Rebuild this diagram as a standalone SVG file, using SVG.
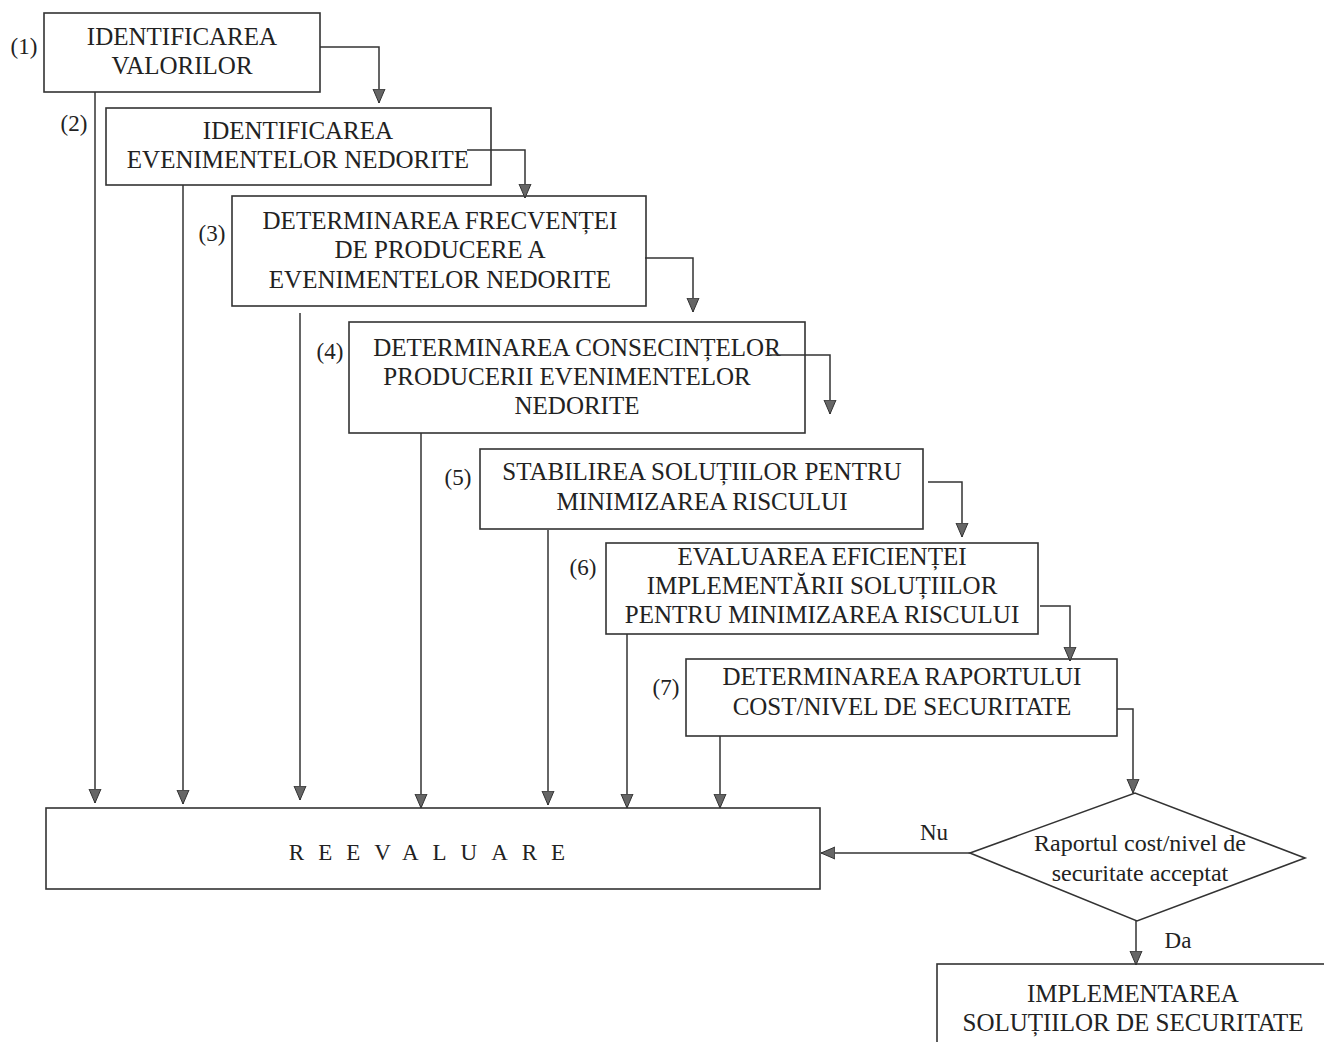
<svg xmlns="http://www.w3.org/2000/svg" width="1324" height="1042" viewBox="0 0 1324 1042">
<style>
.box{fill:#fff;stroke:#333;stroke-width:1.6}
.t{font-family:"Liberation Serif","Times New Roman",serif;font-size:25px;fill:#222;text-anchor:middle}
.n{font-family:"Liberation Serif","Times New Roman",serif;font-size:23px;fill:#222;text-anchor:middle}
.d{font-family:"Liberation Serif","Times New Roman",serif;font-size:24px;fill:#222;text-anchor:middle}
.c{fill:none;stroke:#333;stroke-width:1.5}
</style>
<defs>
<marker id="ah" markerUnits="userSpaceOnUse" markerWidth="15" markerHeight="14" viewBox="0 0 15 14" refX="14" refY="7" orient="auto">
<path d="M0,1 L14,7 L0,13 z" fill="#666" stroke="#333" stroke-width="1"/>
</marker>
</defs>
<rect width="1324" height="1042" fill="#fff"/>
<g id="n1">
<rect class="box" x="44" y="13" width="276" height="79"/>
<text class="t" x="182" y="45">IDENTIFICAREA</text>
<text class="t" x="182" y="74">VALORILOR</text>
<text class="n" x="24" y="54">(1)</text>
</g>
<g id="n2">
<rect class="box" x="106" y="108" width="385" height="77"/>
<text class="t" x="298" y="139">IDENTIFICAREA</text>
<text class="t" x="298" y="168">EVENIMENTELOR NEDORITE</text>
<text class="n" x="74" y="131">(2)</text>
</g>
<g id="n3">
<rect class="box" x="232" y="196" width="414" height="110"/>
<text class="t" x="440" y="229">DETERMINAREA FRECVENȚEI</text>
<text class="t" x="440" y="258">DE PRODUCERE A</text>
<text class="t" x="440" y="288">EVENIMENTELOR NEDORITE</text>
<text class="n" x="212" y="241">(3)</text>
</g>
<g id="n4">
<rect class="box" x="349" y="322" width="456" height="111"/>
<text class="t" x="577" y="356">DETERMINAREA CONSECINȚELOR</text>
<text class="t" x="567" y="385">PRODUCERII EVENIMENTELOR</text>
<text class="t" x="577" y="414">NEDORITE</text>
<text class="n" x="330" y="359">(4)</text>
</g>
<g id="n5">
<rect class="box" x="480" y="449" width="443" height="80"/>
<text class="t" x="702" y="480">STABILIREA SOLUȚIILOR PENTRU</text>
<text class="t" x="702" y="510">MINIMIZAREA RISCULUI</text>
<text class="n" x="458" y="485">(5)</text>
</g>
<g id="n6">
<rect class="box" x="606" y="543" width="432" height="91"/>
<text class="t" x="822" y="565">EVALUAREA EFICIENȚEI</text>
<text class="t" x="822" y="594">IMPLEMENTĂRII SOLUȚIILOR</text>
<text class="t" x="822" y="623">PENTRU MINIMIZAREA RISCULUI</text>
<text class="n" x="583" y="575">(6)</text>
</g>
<g id="n7">
<rect class="box" x="686" y="659" width="431" height="77"/>
<text class="t" x="902" y="685">DETERMINAREA RAPORTULUI</text>
<text class="t" x="902" y="715">COST/NIVEL DE SECURITATE</text>
<text class="n" x="666" y="695">(7)</text>
</g>
<g id="reevaluare">
<rect class="box" x="46" y="808" width="774" height="81"/>
<text class="t" x="434" y="860" style="font-size:23px;letter-spacing:14px">REEVALUARE</text>
</g>
<g id="decision">
<polygon class="box" points="970,853 1135,793 1305,858 1137,921"/>
<text class="d" x="1140" y="851">Raportul cost/nivel de</text>
<text class="d" x="1140" y="881">securitate acceptat</text>
</g>
<g id="implementare">
<rect class="box" x="937" y="964" width="400" height="90"/>
<text class="t" x="1133" y="1002">IMPLEMENTAREA</text>
<text class="t" x="1133" y="1031">SOLUȚIILOR DE SECURITATE</text>
</g>
<g id="connectors">
<path class="c" d="M320,47 H379 V103" marker-end="url(#ah)"/>
<path class="c" d="M467,150 H525 V198" marker-end="url(#ah)"/>
<path class="c" d="M645,258 H693 V312" marker-end="url(#ah)"/>
<path class="c" d="M770,355 H830 V414" marker-end="url(#ah)"/>
<path class="c" d="M928,482 H962 V537" marker-end="url(#ah)"/>
<path class="c" d="M1040,606 H1070 V661" marker-end="url(#ah)"/>
<path class="c" d="M1117,709 H1133 V793" marker-end="url(#ah)"/>
<path class="c" d="M95,92 V803" marker-end="url(#ah)"/>
<path class="c" d="M183,185 V804" marker-end="url(#ah)"/>
<path class="c" d="M300,313 V800" marker-end="url(#ah)"/>
<path class="c" d="M421,433 V808" marker-end="url(#ah)"/>
<path class="c" d="M548,530 V805" marker-end="url(#ah)"/>
<path class="c" d="M627,634 V808" marker-end="url(#ah)"/>
<path class="c" d="M720,736 V808" marker-end="url(#ah)"/>
<path class="c" d="M970,853 H821" marker-end="url(#ah)"/>
<path class="c" d="M1136,921 V965" marker-end="url(#ah)"/>
<text class="n" x="934" y="840">Nu</text>
<text class="n" x="1178" y="948">Da</text>
</g>
</svg>
